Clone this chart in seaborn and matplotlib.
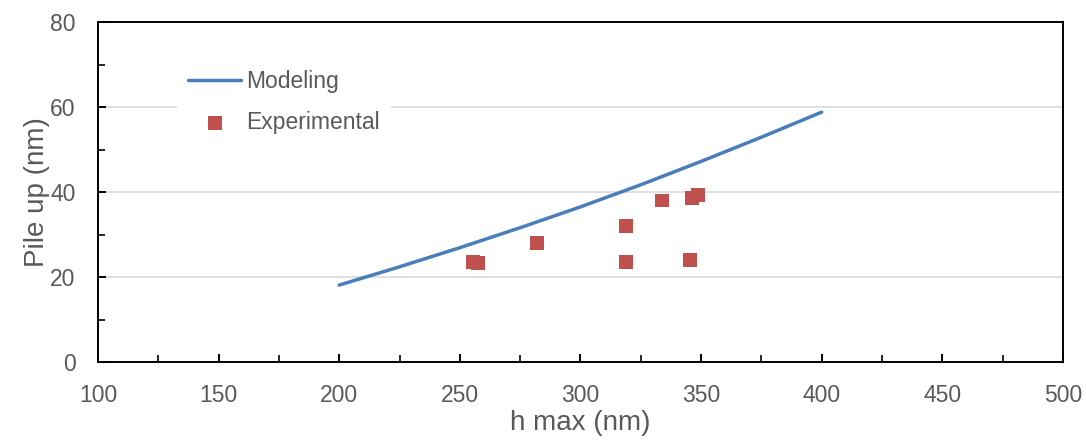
import matplotlib
matplotlib.use("Agg")
import matplotlib.pyplot as plt
import seaborn as sns
from matplotlib.ticker import MultipleLocator

# Modeling curve (h max in nm, pile up in nm)
model_h = [200, 225, 250, 275, 300, 325, 350, 375, 400]
model_pile = [18.1, 22.4, 26.9, 31.6, 36.5, 41.7, 47.2, 52.9, 58.8]

# Experimental measurements
exp_h = [255.6, 257.6, 282.0, 319.0, 319.0, 333.8, 345.5, 346.3, 348.6]
exp_pile = [23.5, 23.3, 27.9, 31.9, 23.5, 38.0, 24.0, 38.5, 39.4]

x_ticks = [100, 150, 200, 250, 300, 350, 400, 450, 500]
y_ticks = [0, 20, 40, 60, 80]

TEXT = "#595959"
BLUE = "#4A7EBB"
RED = "#C0504D"

sns.set_theme(style="white")
plt.rcParams["font.family"] = ["Liberation Sans Narrow", "Liberation Sans", "DejaVu Sans"]

fig = plt.figure(figsize=(10.86, 4.41), dpi=100)
ax = fig.add_axes([0.0902, 0.1791, 0.8886, 0.7710])

sns.lineplot(x=model_h, y=model_pile, color=BLUE, linewidth=2.5, label="Modeling", ax=ax)
sns.scatterplot(x=exp_h, y=exp_pile, marker="s", s=100, color=RED, edgecolor="none",
                linewidth=0, label="Experimental", ax=ax, zorder=3)

ax.set_xlim(100, 500)
ax.set_ylim(0, 80)
ax.set_xticks(x_ticks)
ax.set_yticks(y_ticks)
ax.xaxis.set_minor_locator(MultipleLocator(25))
ax.yaxis.set_minor_locator(MultipleLocator(10))
ax.yaxis.grid(True, which="major", color="#D9D9D9", linewidth=1.2)
ax.set_axisbelow(True)

for spine in ax.spines.values():
    spine.set_visible(True)
    spine.set_color("black")
    spine.set_linewidth(1.4)

ax.tick_params(axis="both", which="major", direction="in", length=6, width=1.4,
               colors="black", labelcolor=TEXT, labelsize=16.5, pad=16)
ax.tick_params(axis="both", which="minor", direction="in", length=5, width=1.2, colors="black")
ax.tick_params(axis="x", which="both", bottom=True, top=False)
ax.tick_params(axis="y", which="both", left=True, right=False)

ax.set_xlabel("h max (nm)", fontsize=20, color=TEXT, labelpad=2)
ax.set_ylabel("Pile up (nm)", fontsize=20, color=TEXT, labelpad=0)

leg = ax.legend(loc="upper left", bbox_to_anchor=(0.07, 0.926), fontsize=16.5, frameon=True,
                facecolor="white", edgecolor="none", framealpha=1, fancybox=False,
                handlelength=2.3, handletextpad=0.2, labelspacing=0.8, borderpad=0.5)
for text in leg.get_texts():
    text.set_color(TEXT)

fig.savefig("out.png", dpi=100)
plt.close(fig)
